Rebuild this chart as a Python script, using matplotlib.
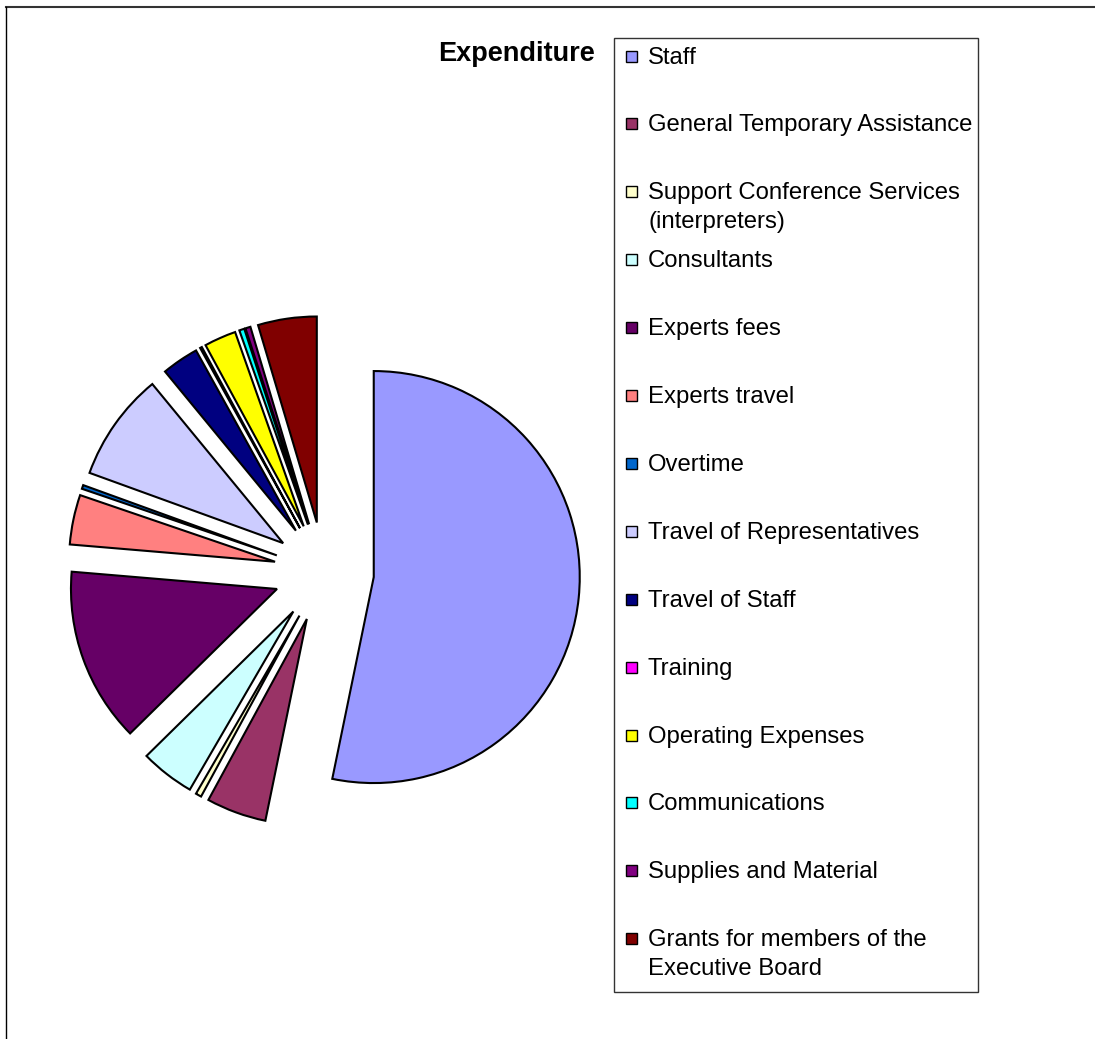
import matplotlib.pyplot as plt
from matplotlib.patches import Rectangle

# Expenditure shares (%)
categories = ['Staff', 'General Temporary Assistance',
              'Support Conference Services\n(interpreters)', 'Consultants',
              'Experts fees', 'Experts travel', 'Overtime',
              'Travel of Representatives', 'Travel of Staff', 'Training',
              'Operating Expenses', 'Communications', 'Supplies and Material',
              'Grants for members of the\nExecutive Board']
shares = [53.2, 4.7, 0.45, 4.25, 13.7, 3.9, 0.3, 8.5, 2.9, 0.15, 2.5, 0.4, 0.4, 4.6]
colors = ['#9999FF', '#993366', '#FFFFCC', '#CCFFFF', '#660066', '#FF8080',
          '#0066CC', '#CCCCFF', '#000080', '#FF00FF', '#FFFF00', '#00FFFF',
          '#800080', '#800000']

W, H = 1095, 1039
R = 206.0           # pie radius in pixels
cx, cy = 324, 572   # pie centre in pixels (from top-left)

fig = plt.figure(figsize=(W / 100, H / 100), dpi=100)

# pie axes, 1 data unit = pie radius
ax = fig.add_axes([0, 0, 1, 1])
ax.pie(shares, colors=colors, startangle=90, counterclock=False,
       explode=[50 / R] * len(shares), radius=1,
       wedgeprops=dict(edgecolor='black', linewidth=1.5))
ax.set_xlim(-cx / R, (W - cx) / R)
ax.set_ylim(-(H - cy) / R, cy / R)
ax.set_aspect('auto')
ax.axis('off')

# overlay in pixel coordinates for frame, title and legend
ov = fig.add_axes([0, 0, 1, 1], zorder=5)
ov.set_xlim(0, W)
ov.set_ylim(H, 0)
ov.axis('off')
ov.patch.set_alpha(0)

ov.plot([6, W], [7, 7], color='#333333', lw=1.5)
ov.plot([6, 6], [7, H], color='black', lw=1.0)

ov.text(438, 61, 'Expenditure', fontsize=19.5, fontweight='bold',
        family='Liberation Sans', va='baseline', ha='left')

ov.add_patch(Rectangle((614, 38), 364, 954, facecolor='white',
                       edgecolor='#333333', lw=1.0, zorder=3))
for i, (lab, col) in enumerate(zip(categories, colors)):
    y = 56 + i * 67.9
    ov.add_patch(Rectangle((626, y - 5.5), 11, 11, facecolor=col,
                           edgecolor='black', lw=1.0, zorder=4))
    for k, line in enumerate(lab.split('\n')):
        ov.text(648, y + 7.5 + k * 28.5, line, fontsize=17.2,
                family='Liberation Sans', va='baseline', ha='left', zorder=4)

fig.savefig('out.png', dpi=100)
